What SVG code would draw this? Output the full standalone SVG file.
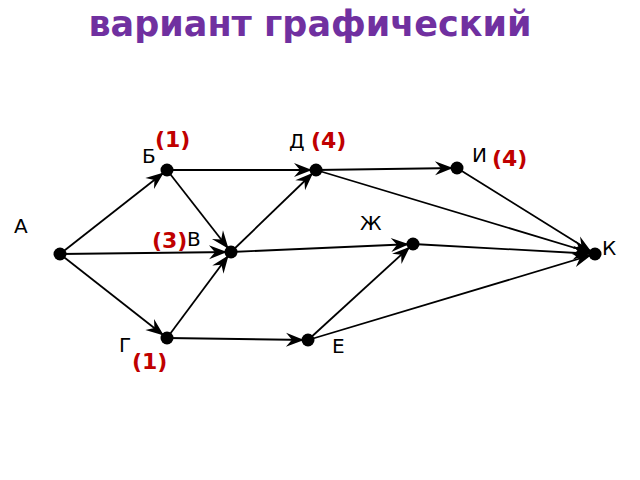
<svg xmlns="http://www.w3.org/2000/svg" width="640" height="480" viewBox="0 0 640 480">
<style>
.title{font-family:"DejaVu Sans",sans-serif;font-weight:bold;font-size:35px;fill:#7030A0}
.lbl{font-family:"DejaVu Sans",sans-serif;font-size:20px;fill:#000}
.w{font-family:"DejaVu Sans",sans-serif;font-weight:bold;font-size:22px;fill:#C00000}
.e{stroke:#000;stroke-width:1.8;fill:none;marker-end:url(#arr)}
.n{fill:#000}
</style>
<defs>
<marker id="arr" markerUnits="userSpaceOnUse" orient="auto" overflow="visible" refX="0" refY="0" markerWidth="1" markerHeight="1">
<path d="M-4,0 L-22,-7 L-16,0 L-22,7 Z" fill="#000"/>
</marker>
</defs>
<rect width="640" height="480" fill="#fff"/>
<text class="title" x="310" y="36" text-anchor="middle">вариант графический</text>
<g id="connectors">
<line class="e" x1="60" y1="254" x2="167" y2="170"/>
<line class="e" x1="60" y1="254" x2="231" y2="252"/>
<line class="e" x1="60" y1="254" x2="167" y2="338"/>
<line class="e" x1="167" y1="170" x2="316" y2="170"/>
<line class="e" x1="167" y1="170" x2="231" y2="252"/>
<line class="e" x1="167" y1="338" x2="231" y2="252"/>
<line class="e" x1="167" y1="338" x2="308" y2="340"/>
<line class="e" x1="231" y1="252" x2="316" y2="170"/>
<line class="e" x1="231" y1="252" x2="413" y2="244"/>
<line class="e" x1="316" y1="170" x2="457" y2="168"/>
<line class="e" x1="316" y1="170" x2="595" y2="254"/>
<line class="e" x1="457" y1="168" x2="595" y2="254"/>
<line class="e" x1="413" y1="244" x2="595" y2="254"/>
<line class="e" x1="308" y1="340" x2="413" y2="244"/>
<line class="e" x1="308" y1="340" x2="595" y2="254"/>
</g>
<g id="node-A"><circle class="n" cx="60" cy="254" r="6.5"/><text class="lbl" x="14" y="233">А</text></g>
<g id="node-B"><circle class="n" cx="167" cy="170" r="6.5"/><text class="lbl" x="142" y="163">Б</text><text class="w" x="155" y="147">(1)</text></g>
<g id="node-V"><circle class="n" cx="231" cy="252" r="6.5"/><text class="lbl" x="187" y="246">В</text><text class="w" x="152" y="248">(3)</text></g>
<g id="node-G"><circle class="n" cx="167" cy="338" r="6.5"/><text class="lbl" x="119" y="352">Г</text><text class="w" x="132" y="369">(1)</text></g>
<g id="node-D"><circle class="n" cx="316" cy="170" r="6.5"/><text class="lbl" x="289" y="148">Д</text><text class="w" x="311" y="148">(4)</text></g>
<g id="node-I"><circle class="n" cx="457" cy="168" r="6.5"/><text class="lbl" x="472" y="162">И</text><text class="w" x="492" y="166">(4)</text></g>
<g id="node-Zh"><circle class="n" cx="413" cy="244" r="6.5"/><text class="lbl" x="360" y="230">Ж</text></g>
<g id="node-K"><circle class="n" cx="595" cy="254" r="6.5"/><text class="lbl" x="602" y="255">К</text></g>
<g id="node-E"><circle class="n" cx="308" cy="340" r="6.5"/><text class="lbl" x="332" y="353">Е</text></g>
</svg>
